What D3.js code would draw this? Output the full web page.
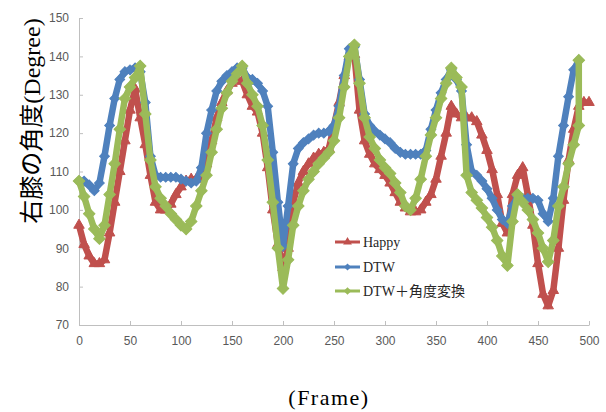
<!DOCTYPE html>
<html>
<head>
<meta charset="utf-8">
<script src="https://cdn.jsdelivr.net/npm/d3@7"></script>
<style>
  body { margin: 0; background: #fff; }
  svg { display: block; }
</style>
</head>
<body>
<div id="chart"></div>
<script>
// frame numbers, one entry every 5 frames
var frames = [
  0, 5, 10, 15, 20, 25, 30, 35, 40, 45, 50, 55, 60, 65, 70, 75, 80, 85, 90, 95,
  100, 105, 110, 115, 120, 125, 130, 135, 140, 145, 150, 155, 160, 165, 170, 175, 180, 185, 190, 195,
  200, 205, 210, 215, 220, 225, 230, 235, 240, 245, 250, 255, 260, 265, 270, 275, 280, 285, 290, 295,
  300, 305, 310, 315, 320, 325, 330, 335, 340, 345, 350, 355, 360, 365, 370, 375, 380, 385, 390, 395,
  400, 405, 410, 415, 420, 425, 430, 435, 440, 445, 450, 455, 460, 465, 470, 475, 480, 485, 490, 495,
  500
];

// right knee angle (degree)
var happy = [
  96, 91, 88, 86, 86, 87, 94, 102, 110, 118, 126, 131.5, 124, 117, 109, 102, 100, 100, 101.5, 104,
  106, 107.5, 108, 108, 108.5, 112, 118, 124, 128, 131, 133, 134, 133.5, 130, 127, 125.5, 120, 111, 100, 91,
  85, 90, 102, 107, 110, 112, 113.5, 114.5, 115, 116, 122, 128, 135, 140, 140.5, 126, 118, 114.5, 112, 110.5,
  109, 107, 104.5, 102, 100.5, 99.5, 99.5, 100, 102, 104, 108, 114, 120, 127, 125, 124, 124, 124, 123, 119.5,
  115.5, 110.5, 104, 96.5, 94, 104, 109, 111, 104, 96, 86, 78, 75, 79, 90, 102.5, 113, 121, 127, 128,
  128
];

var dtw = [
  107.5, 107.5, 106.5, 105, 107, 114, 122, 129, 134, 136, 136.5, 137, 136, 128, 114, 109, 108.5, 108.5, 108.5, 108.5,
  108, 107.5, 107, 107.5, 111, 120, 126, 131, 133.5, 135, 136, 137, 137, 134.5, 134, 133, 131, 127, 115, 102,
  90.5, 101, 112, 116, 117.5, 118.5, 119.5, 120, 120, 120.5, 122, 127, 135, 142, 142.5, 134, 125, 122, 120.5, 119.5,
  118.5, 117.5, 116, 115, 114.5, 114.5, 114.5, 114.5, 115.5, 121, 126, 130.5, 134, 136.5, 134, 131, 117, 110, 109, 107.5,
  105.5, 103, 100, 97.5, 96.5, 101, 103.5, 103, 103, 103, 102.5, 99, 97, 103, 114, 122, 129.5, 136.5, 139, null,
  null
];

var dtwAngle = [
  107.5, 103.5, 99, 95, 92.5, 96, 104, 112, 121, 129, 132, 134.5, 137.5, 125, 113, 106, 103, 101, 99, 97.5,
  96, 95, 97, 101, 105, 109, 115, 121, 126.5, 130.5, 133.5, 135.5, 137.5, 133, 130, 127, 122, 113, 102, 90,
  79.5, 87, 96, 101, 105, 108, 110, 112, 113.5, 115, 118, 124, 132, 140, 143, 133, 124, 119, 116, 113,
  111, 109.5, 107, 104.5, 101, 100, 103, 108, 114, 119.5, 124, 129, 133, 137, 134.5, 132, 109, 104.5, 102.5, 100.5,
  98, 95.5, 92, 88, 85.5, 97, 104, 102, 100, 97.5, 94, 90, 86.5, 92, 101, 106, 112, 117, 122, null,
  null
];
// last green point jumps straight up at frame 490
var dtwAngleEndFrame = 490;
var dtwAngleEndValue = 139;

var seriesNames = ["Happy", "DTW", "DTW\uFF0B角度変換"];
var seriesColors = ["#C0504D", "#4F81BD", "#9BBB59"];

var xTicks = [0, 50, 100, 150, 200, 250, 300, 350, 400, 450, 500];
var yTicks = [70, 80, 90, 100, 110, 120, 130, 140, 150];

var W = 606, H = 412;
var svg = d3.select("#chart").append("svg")
  .attr("width", W)
  .attr("height", H);

var x = d3.scaleLinear().domain([0, 500]).range([79, 589]);
var y = d3.scaleLinear().domain([70, 150]).range([325, 18]);

var tickFont = "'Liberation Sans', Arial, sans-serif";
var serif = "'Liberation Serif', 'Times New Roman', 'Noto Sans CJK JP', serif";

// x axis (ticks point inward)
var xAxis = svg.append("g")
  .attr("transform", "translate(0,325)")
  .call(d3.axisBottom(x).tickValues(xTicks).tickSizeInner(-4).tickSizeOuter(0).tickPadding(11));
// y axis
var yAxis = svg.append("g")
  .attr("transform", "translate(79,0)")
  .call(d3.axisLeft(y).tickValues(yTicks).tickSizeInner(-4).tickSizeOuter(0).tickPadding(10));

[xAxis, yAxis].forEach(function(g) {
  g.select(".domain").attr("stroke", "#bfbfbf").attr("stroke-width", 1);
  g.selectAll(".tick line").attr("stroke", "#bfbfbf");
  g.selectAll(".tick text")
    .attr("fill", "#595959")
    .style("font-family", tickFont)
    .style("font-size", "12px");
});

// build point lists
var pts = [happy, dtw, dtwAngle].map(function(vals) {
  var out = [];
  vals.forEach(function(v, i) {
    if (v != null) out.push({ f: frames[i], v: v });
  });
  return out;
});
pts[2].push({ f: dtwAngleEndFrame, v: dtwAngleEndValue });

var line = d3.line()
  .x(function(d) { return x(d.f); })
  .y(function(d) { return y(d.v); });

var tri = d3.symbol().type(d3.symbolTriangle).size(48);
var dia = d3.symbol().type(d3.symbolSquare).size(48);
var diaBig = d3.symbol().type(d3.symbolSquare).size(66);
var shapes = [tri, dia, diaBig];
var rot = [0, 45, 45];
var lineW = [6.5, 6.5, 6.5];

pts.forEach(function(data, s) {
  var g = svg.append("g");
  g.append("path")
    .datum(data)
    .attr("d", line)
    .attr("fill", "none")
    .attr("stroke", seriesColors[s])
    .attr("stroke-width", lineW[s])
    .attr("stroke-linejoin", "round");
  g.selectAll("path.mk")
    .data(data)
    .enter()
    .append("path")
      .attr("class", "mk")
      .attr("d", shapes[s])
      .attr("transform", function(d) {
        return "translate(" + x(d.f) + "," + y(d.v) + ") rotate(" + rot[s] + ")";
      })
      .attr("fill", seriesColors[s])
      .attr("stroke", seriesColors[s])
      .attr("stroke-width", 1);
});

// legend
var legY = [242, 267, 291];
var legShapes = [
  d3.symbol().type(d3.symbolTriangle).size(34),
  d3.symbol().type(d3.symbolSquare).size(26),
  d3.symbol().type(d3.symbolSquare).size(30)
];
var leg = svg.append("g");
seriesNames.forEach(function(name, s) {
  leg.append("line")
    .attr("x1", 335).attr("x2", 360)
    .attr("y1", legY[s]).attr("y2", legY[s])
    .attr("stroke", seriesColors[s])
    .attr("stroke-width", 3);
  leg.append("path")
    .attr("d", legShapes[s])
    .attr("transform", "translate(347.5," + legY[s] + ") rotate(" + rot[s] + ")")
    .attr("fill", seriesColors[s]);
  leg.append("text")
    .attr("x", 363)
    .attr("y", legY[s] + 5)
    .style("font-family", serif)
    .style("font-size", "14px")
    .attr("fill", "#262626")
    .text(name);
});

// axis titles
var yt = svg.append("text")
  .attr("transform", "translate(40,121) rotate(-90)")
  .attr("text-anchor", "middle")
  .style("font-family", serif)
  .style("font-size", "24px")
  .attr("fill", "#000");
yt.append("tspan").style("letter-spacing", "0px").text("右膝の角度");
yt.append("tspan").text("(Degree)");

svg.append("text")
  .attr("x", 329)
  .attr("y", 405)
  .attr("text-anchor", "middle")
  .style("font-family", serif)
  .style("font-size", "22px")
  .style("letter-spacing", "1.5px")
  .attr("fill", "#000")
  .text("(Frame)");
</script>
</body>
</html>
